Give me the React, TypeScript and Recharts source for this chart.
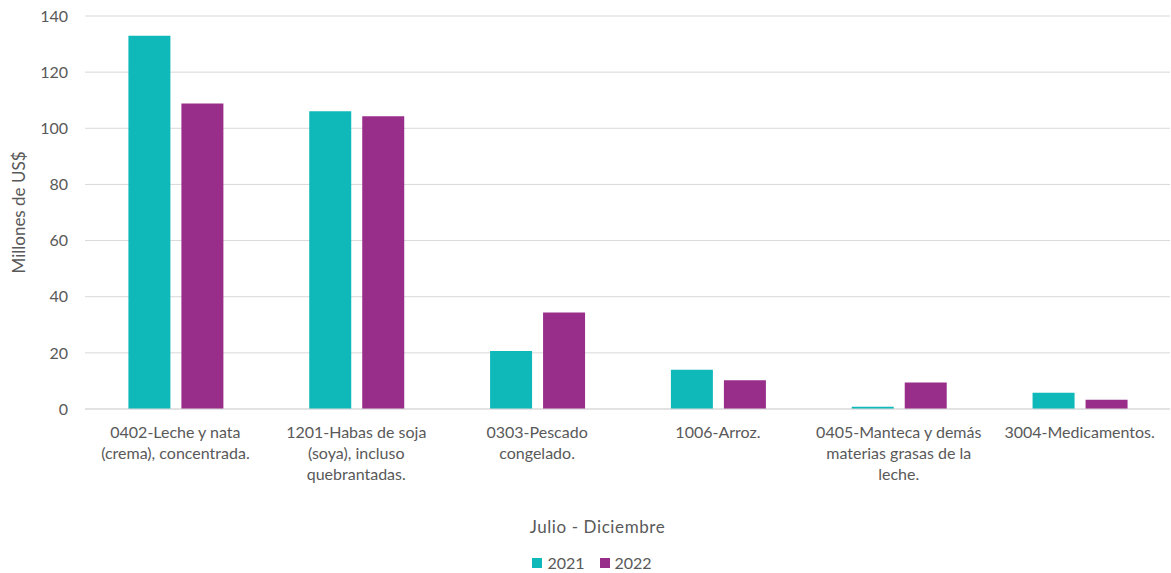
import React from "react";
import {
  BarChart,
  Bar,
  XAxis,
  YAxis,
  CartesianGrid,
  Legend,
} from "recharts";

const categories = [
  "0402-Leche y nata (crema), concentrada.",
  "1201-Habas de soja (soya), incluso quebrantadas.",
  "0303-Pescado congelado.",
  "1006-Arroz.",
  "0405-Manteca  y demás materias grasas de la leche.",
  "3004-Medicamentos.",
];

const tickLines = [
  ["0402-Leche y nata", "(crema), concentrada."],
  ["1201-Habas de soja", "(soya), incluso", "quebrantadas."],
  ["0303-Pescado", "congelado."],
  ["1006-Arroz."],
  ["0405-Manteca  y demás", "materias grasas de la", "leche."],
  ["3004-Medicamentos."],
];

const values2021 = [133.0, 106.1, 20.7, 14.0, 0.8, 5.8];
const values2022 = [108.8, 104.3, 34.4, 10.2, 9.4, 3.3];

const yTicks = [0, 20, 40, 60, 80, 100, 120, 140];

const SERIES = [
  { key: "y2021", name: "2021", color: "#10B9B9" },
  { key: "y2022", name: "2022", color: "#982E8A" },
];

const FONT = "Lato, 'Noto Sans', sans-serif";
const TEXT = "#595959";

const data = categories.map((name, i) => ({
  name,
  y2021: values2021[i],
  y2022: values2022[i],
}));

const CategoryTick = (props: any) => {
  const { x, y, payload } = props;
  const idx = categories.indexOf(payload.value);
  const lines = tickLines[idx] || [payload.value];
  return (
    <text
      x={x}
      y={y + 29}
      textAnchor="middle"
      fill={TEXT}
      fontSize={16}
      fontFamily={FONT}
    >
      {lines.map((l, i) => (
        <tspan key={i} x={x} dy={i === 0 ? 0 : 21}>
          {l}
        </tspan>
      ))}
    </text>
  );
};

const XTitle = (props: any) => {
  const { viewBox } = props;
  return (
    <text
      x={viewBox.x + viewBox.width / 2 - 30}
      y={533}
      textAnchor="middle"
      fill={TEXT}
      fontSize={17}
      letterSpacing={0.6}
      fontFamily={FONT}
    >
      Julio - Diciembre
    </text>
  );
};

const LegendContent = () => (
  <div
    style={{
      display: "flex",
      justifyContent: "center",
      gap: 15,
      paddingLeft: 13,
      fontFamily: FONT,
      fontSize: 16,
      color: TEXT,
    }}
  >
    {SERIES.map((s) => (
      <span key={s.key} style={{ display: "flex", alignItems: "center" }}>
        <span
          style={{
            display: "inline-block",
            width: 10,
            height: 10,
            background: s.color,
            marginRight: 5,
          }}
        />
        {s.name}
      </span>
    ))}
  </div>
);

const App: React.FC = () => {
  return (
    <div style={{ position: "absolute", left: 0, top: 0, background: "#fff" }}>
      <BarChart
        width={1171}
        height={573}
        data={data}
        margin={{ top: 16, right: 1, bottom: 0, left: 0 }}
        barCategoryGap="24%"
        barGap={11}
      >
        <CartesianGrid vertical={false} stroke="#D9D9D9" strokeWidth={1} />
        <XAxis
          dataKey="name"
          interval={0}
          height={164}
          tickLine={false}
          tickSize={0}
          tickMargin={0}
          axisLine={{ stroke: "#D9D9D9" }}
          tick={<CategoryTick />}
          label={<XTitle />}
        />
        <YAxis
          width={85}
          domain={[0, 140]}
          ticks={yTicks}
          axisLine={false}
          tickLine={false}
          tickSize={0}
          tickMargin={17}
          tick={{ fill: TEXT, fontSize: 16, fontFamily: FONT }}
          label={{
            value: "Millones de US$",
            angle: -90,
            position: "insideLeft",
            offset: 19,
            style: { textAnchor: "middle" },
            fill: TEXT,
            fontSize: 17,
            fontFamily: FONT,
          }}
        />
        <Legend
          layout="horizontal"
          align="center"
          verticalAlign="middle"
          content={<LegendContent />}
          wrapperStyle={{ top: 553, left: 0, width: 1171 }}
        />
        {SERIES.map((s) => (
          <Bar
            key={s.key}
            dataKey={s.key}
            name={s.name}
            fill={s.color}
            isAnimationActive={false}
          />
        ))}
      </BarChart>
    </div>
  );
};

export default App;
